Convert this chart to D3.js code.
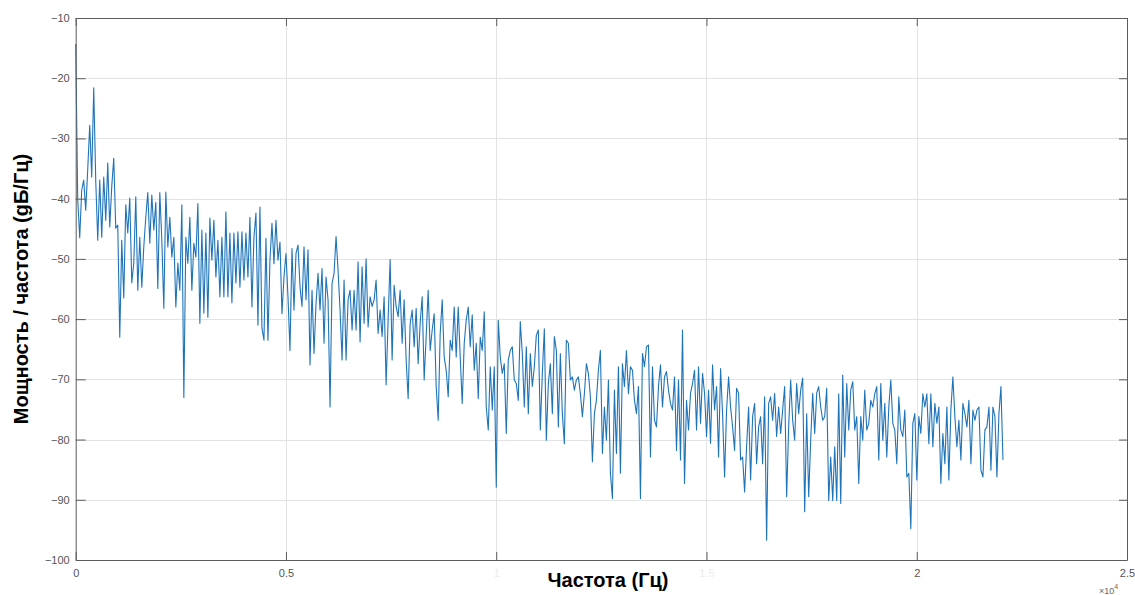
<!DOCTYPE html>
<html><head><meta charset="utf-8">
<script src="https://cdn.jsdelivr.net/npm/d3@7"></script>
<style>body{margin:0;background:#fff}svg{display:block}</style>
</head><body>
<svg id="chart" width="1135" height="595"></svg>
<script>
// ---- data ----
const sampleRateHz = 44100; // spectrum runs 0 .. fs/2
const psdBand1 = [
-14.3,-40,-46.5,-38.6,-36.9,-41.9,-35.2,-27.8,-36.4,-21.6,
-36.9,-46.9,-36.9,-46.4,-36.4,-43.6,-34.1,-44.7,-38,-33.3,
-44.9,-44.4,-63,-46.9,-56.5,-41,-45.7,-39.9,-54,-50.7,
-39.7,-55.2,-46.4,-54.7,-48,-43.1,-39,-47.4,-39.4,-45.2,
-40.6,-54.9,-39,-46.9,-58.2,-38.9,-48,-43.1,-49.7,-46.4,
-58,-50.7,-55.2,-41,-73,-46.4,-50.7,-43.1,-55.2,-47.4,
-49.7,-40.8,-60.7,-45.2,-59,-45.7,-59.7,-43.2,-50.2,-43.6,
-53,-46.9,-56.3,-46.4,-56.3,-42.2,-56.3,-45.7,-57.3,-45.7,
-54,-45.5,-54.7,-45.5,-53.5,-45.7,-53,-43.1,-58,-46.4,
-42.4,-61,-41.4,-61.5];
const psdBand2 = [
-63.5,-46.6,-63.5,-50.2,-44.1,-50.8,-43.6,-50.2,-47.2,-59.1,
-53,-49.1,-56.3,-65.2,-48.3,-58.5,-49.1,-47.7,-54.6,-57.9,
-48,-56.8,-48.5,-67.6,-55.2,-65.7,-57.4,-52.4,-58.5,-51.6,
-64,-53,-56.8,-74.6,-54.1,-52.4,-46.3,-51.9,-58.5,-66.8,
-53.5,-66.8,-56.8,-55.2,-61.8,-55.2,-61.8,-50.5,-63.8,-51.3,
-60.7,-50,-61.3,-56.3,-57.9,-56.8,-53.5,-62.4,-58.5,-62.9,
-56.3,-70.9,-60.2,-50.1,-66.8,-54.4,-57.9,-59.6,-55.2,-64,
-56.8,-66.8,-73.2,-60.7,-58.5,-64.6,-58.2,-67.4,-60.7,-56.3,
-70.1,-62.9,-55.2,-65.2,-61.8,-59.1,-71.2,-76.8,-62.4,-56.8,
-66.3,-68.5,-72.9];
const psdBand3 = [
-63.5,-65.2,-58,-66.3,-58,-66.3,-74,-64,-60.2,-58,
-64.6,-59.3,-68.5,-64,-73.2,-63,-65.2,-58.8,-74.6,-78.4,
-67.9,-75.1,-67.9,-87.9,-60.2,-66.3,-69,-67.4,-79,-66.8,
-65.2,-64.6,-70.1,-70.7,-73.5,-60.4,-65.7,-74.6,-64.6,-75.7,
-65.7,-71.2,-67.9,-62.7,-61.8,-78.4,-69,-61.6,-80.1,-70.7,
-67.4,-75.7,-62.9,-65.2,-77.9,-65.7,-75.7,-80.7,-63.5,-64,
-70.1,-69.6,-71.8,-70.1,-69.6,-72.4,-76.2,-72.4,-67.4,-69,
-72.9,-83.7,-75.7,-73.5,-68.5,-65.2,-82.3,-74.6,-80.1,-70.1,
-85.6,-89.8,-71.8,-82.3,-67.9,-85.6,-67.4,-71.2,-65.2,-72.4,
-67.9,-68.5,-73.5];
const psdBand4 = [
-75.7,-71.2,-89.8,-65.7,-67.9,-64.6,-64.3,-82.9,-67.9,-76.8,
-77.9,-71.2,-67.6,-74.6,-69.6,-68.7,-71.8,-74,-75.1,-69.6,
-81.8,-70.1,-83.4,-61.8,-87.3,-73.5,-78.4,-72.3,-70.7,-68.5,
-78.4,-67.9,-77.3,-69,-72.3,-79.5,-71.8,-80.6,-67.6,-75.1,
-71.2,-82.9,-68.2,-75.7,-86.2,-75.1,-69.6,-74.6,-77.9,-81.8,
-71.5,-72.3,-83.4,-82.9,-88.7,-81.2,-74.6,-86.7,-76.2,-74,
-84,-77.9,-76.2,-84,-72.9,-96.7,-74,-72.9,-76.8,-72.3,
-79.5,-74.6,-79,-75.1,-71.2,-89.5,-77.9,-70.1,-76.8,-80.1,
-70.7,-75.7,-71.8,-69.8,-92,-75.7,-89.5,-80.1,-72.3,-79,
-72.3,-71.2,-74.6];
const psdBand5 = [
-76.8,-76.2,-71.5,
-90.1,-82.9,-90.1,-81.2,-90.1,-72.4,-90.6,-69.3,
-82.9,-70.7,-78.4,-71.8,-70.4,-78.4,-76.2,-87.3,-76.2,-80.1,
-71.8,-78.4,-77.3,-73.5,-74.6,-72.4,-71.2,-83.4,-70.7,-80.1,
-74,-82.9,-74.6,-70.1,-77.3,-78.4,-84,-72.9,-78.4,-79.5,
-75.1,-86.2,-85.6,-94.8,-77.3,-75.7,-86.7,-76.2,-79,-72.4,
-74.6,-72.4,-80.7,-72.4,-81.2,-74,-77.3,-74.6,-87.3,-79,
-84,-74.6,-86.7,-75.1,-69.6,-76.2,-81.2,-76.8,-83.4,-74,
-75.7,-77.9,-73.5,-84,-75.1,-76.8,-75.1,-74.6,-85.1,-86.2,
-78.4,-77.9,-74.6,-85.1,-74.6,-76.2,-86.2,-75.7,-71.2,-83.4];

const xTickValues = [0, 5000, 10000, 15000, 20000, 25000];
const xTickLabels = ["0", "0.5", "1", "1.5", "2", "2.5"];
const yTickValues = [-100, -90, -80, -70, -60, -50, -40, -30, -20, -10];
const xTitle = "Частота (Гц)";
const yTitle = "Мощность / частота (gБ/Гц)";

// ---- build series ----
const powerDb = [].concat(psdBand1, psdBand2, psdBand3, psdBand4, psdBand5);
const nyquist = sampleRateHz / 2;
const series = powerDb.map((v, i) => ({ f: i * nyquist / (powerDb.length - 1), p: v }));

// ---- layout ----
const L = 75.7, R = 1127, T = 18, B = 560;
const svg = d3.select("#chart");
const font = "'Liberation Sans', Arial, sans-serif";

const x = d3.scaleLinear().domain([0, 25000]).range([L, R]);
const y = d3.scaleLinear().domain([-100, -10]).range([B, T]);

// grid
const grid = svg.append("g").attr("stroke", "#e3e3e3").attr("stroke-width", 1);
grid.selectAll(".gx").data(xTickValues.slice(1, -1)).join("line")
  .attr("x1", d => Math.round(x(d)) + 0.5).attr("x2", d => Math.round(x(d)) + 0.5)
  .attr("y1", T).attr("y2", B);
grid.selectAll(".gy").data(yTickValues.slice(1, -1)).join("line")
  .attr("y1", d => Math.round(y(d)) + 0.5).attr("y2", d => Math.round(y(d)) + 0.5)
  .attr("x1", L).attr("x2", R);

// line
const line = d3.line().x(d => x(d.f)).y(d => y(d.p));
svg.append("path").datum(series)
  .attr("fill", "none").attr("stroke", "#1f74b8").attr("stroke-width", 1.1)
  .attr("stroke-linejoin", "round").attr("d", line);

// axes (MATLAB style box, inward ticks)
const axisColor = "#5c5c5c";
function styleAxis(g) {
  g.selectAll(".domain").attr("stroke", axisColor);
  g.selectAll(".tick line").attr("stroke", axisColor);
  g.selectAll("text").attr("fill", "#555").attr("font-family", font).attr("font-size", 11);
}
const gx = svg.append("g").attr("transform", `translate(0,${B})`)
  .call(d3.axisBottom(x).tickValues(xTickValues).tickSize(-8).tickSizeOuter(0)
    .tickPadding(9).tickFormat((d, i) => xTickLabels[i]));
styleAxis(gx);
gx.selectAll(".tick text").attr("fill", (d, i) => (i === 2 || i === 3) ? "#ececec" : "#555");

const gxt = svg.append("g").attr("transform", `translate(0,${T})`)
  .call(d3.axisTop(x).tickValues(xTickValues).tickSize(-8).tickSizeOuter(0).tickFormat(""));
styleAxis(gxt);

const gy = svg.append("g").attr("transform", `translate(${L},0)`)
  .call(d3.axisLeft(y).tickValues(yTickValues).tickSize(-10).tickSizeOuter(0).tickPadding(6));
styleAxis(gy);

const gyr = svg.append("g").attr("transform", `translate(${R},0)`)
  .call(d3.axisRight(y).tickValues(yTickValues).tickSize(-8).tickSizeOuter(0).tickFormat(""));
styleAxis(gyr);

// exponent
const ex = svg.append("text").attr("x", 1099).attr("y", 594)
  .attr("font-family", font).attr("font-size", 9).attr("fill", "#666");
ex.append("tspan").text("×10");
ex.append("tspan").attr("dy", -5).attr("font-size", 7).text("4");

// titles
svg.append("text").attr("x", 608).attr("y", 587).attr("text-anchor", "middle")
  .attr("font-family", font).attr("font-weight", "bold").attr("font-size", 20)
  .attr("fill", "#000").text(xTitle);
svg.append("text").attr("transform", `translate(28,${(T + B) / 2}) rotate(-90)`)
  .attr("text-anchor", "middle")
  .attr("font-family", font).attr("font-weight", "bold").attr("font-size", 20)
  .attr("fill", "#000").text(yTitle);
</script>
</body></html>
